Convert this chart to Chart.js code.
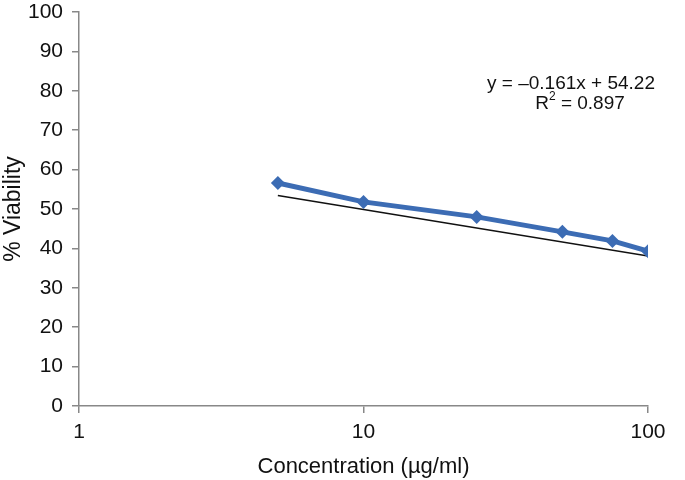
<!DOCTYPE html>
<html><head><meta charset="utf-8">
<script src="https://cdn.jsdelivr.net/npm/chart.js@4/dist/chart.umd.min.js"></script>
<style>html,body{margin:0;padding:0;background:#fff}#wrap{width:685px;height:480px}</style>
</head><body><div id="wrap"><canvas id="c"></canvas></div>
<script>
const concentrations = [5, 10, 25, 50, 75, 100];
const viability = [56.6, 51.8, 48.0, 44.2, 41.9, 39.3];
const trendX = [5, 100];
const trendY = [53.4, 38.1];
const xTicks = [1, 10, 100];
const yTicks = [0, 10, 20, 30, 40, 50, 60, 70, 80, 90, 100];
const equationText = "y = \u20130.161x + 54.22";
const r2Parts = ["R", "2", " = 0.897"];

const FONT = "'Liberation Sans', Arial, Helvetica, sans-serif";
const annot = {
  id: 'annot',
  afterDraw(chart) {
    const ctx = chart.ctx;
    ctx.save();
    ctx.fillStyle = '#111';
    ctx.font = '19px ' + FONT;
    ctx.textAlign = 'center';
    ctx.textBaseline = 'middle';
    ctx.fillText(equationText, 571, 84);
    ctx.textAlign = 'left';
    const big = '19px ' + FONT, small = '12px ' + FONT;
    ctx.font = big; const wR = ctx.measureText(r2Parts[0]).width;
    const wRest = ctx.measureText(r2Parts[2]).width;
    ctx.font = small; const w2 = ctx.measureText(r2Parts[1]).width;
    const total = wR + w2 + wRest;
    let x = 580 - total / 2;
    ctx.font = big; ctx.fillText(r2Parts[0], x, 104); x += wR;
    ctx.font = small; ctx.fillText(r2Parts[1], x, 97); x += w2;
    ctx.font = big; ctx.fillText(r2Parts[2], x, 104);
    ctx.restore();
  }
};

new Chart(document.getElementById('c'), {
  type: 'line',
  data: {
    datasets: [
      {
        data: concentrations.map((x, i) => ({x, y: viability[i]})),
        borderColor: '#3c6cb4', backgroundColor: '#3c6cb4',
        borderWidth: 5, pointStyle: 'rectRot', pointRadius: 7,
        pointBorderWidth: 0, tension: 0, order: 1
      },
      {
        data: trendX.map((x, i) => ({x, y: trendY[i]})),
        borderColor: '#111', borderWidth: 1.5, pointRadius: 0, order: 2
      }
    ]
  },
  options: {
    responsive: true, maintainAspectRatio: false, animation: false,
    layout: {padding: {top: 12, right: 37, left: 0, bottom: 0}},
    plugins: {legend: {display: false}, tooltip: {enabled: false}},
    scales: {
      x: {
        type: 'logarithmic', min: 1, max: 100,
        afterBuildTicks: s => { s.ticks = xTicks.map(v => ({value: v})); },
        afterFit: s => { s.height = 74; s.paddingLeft = 0; s.paddingRight = 0; },
        ticks: {color: '#111', font: {size: 21, family: FONT}, padding: 7, maxRotation: 0,
          callback: v => String(v)},
        grid: {drawOnChartArea: false, drawTicks: true, tickLength: 7, color: '#888', lineWidth: 1.5},
        border: {display: true, color: '#888', width: 1.5},
        title: {display: true, text: 'Concentration (\u00B5g/ml)', color: '#111',
          font: {size: 22, family: FONT}, padding: {top: 3, bottom: 0}}
      },
      y: {
        min: 0, max: 100,
        afterBuildTicks: s => { s.ticks = yTicks.map(v => ({value: v})); },
        afterFit: s => { s.width = 79; s.paddingTop = 0; s.paddingBottom = 0; },
        ticks: {color: '#111', font: {size: 21, family: FONT}, padding: 9},
        grid: {drawOnChartArea: false, drawTicks: true, tickLength: 7, color: '#888', lineWidth: 1.5},
        border: {display: true, color: '#888', width: 1.5},
        title: {display: true, text: '% Viability', color: '#111',
          font: {size: 23, family: FONT}, padding: {top: 0, bottom: 0}}
      }
    }
  },
  plugins: [annot]
});
</script></body></html>
